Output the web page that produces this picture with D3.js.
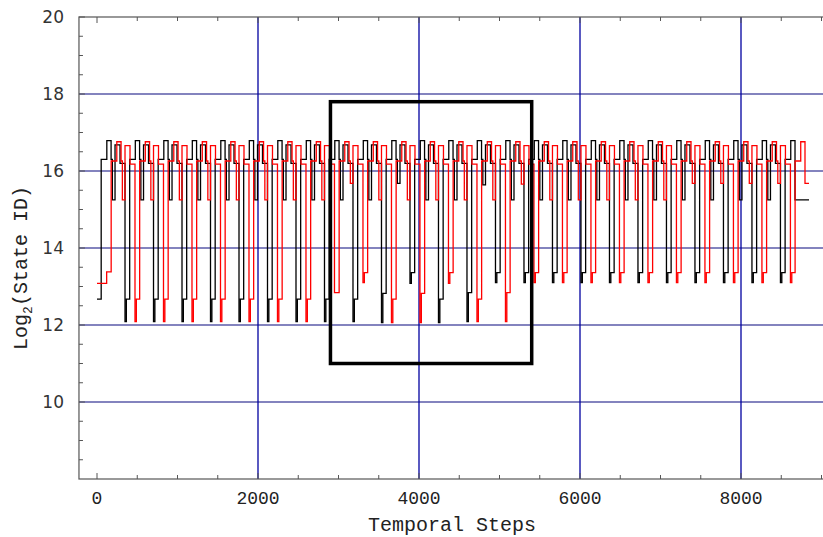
<!DOCTYPE html>
<html><head><meta charset="utf-8">
<script src="https://cdn.jsdelivr.net/npm/d3@7"></script>
<style>body{margin:0;background:#fff}svg{display:block}</style>
</head><body>
<svg id="c" width="823" height="537"></svg>
<script>
// ---------- data ----------
const xTickLabels = [0, 2000, 4000, 6000, 8000];
const yTickLabels = [10, 12, 14, 16, 18, 20];
const xMinorTicks = [0, 500, 1000, 1500, 2000, 2500, 3000, 3500, 4000, 4500, 5000, 5500, 6000, 6500, 7000, 7500, 8000, 8500, 9000];
const yMinorTicks = [8.5, 9, 9.5, 10, 10.5, 11, 11.5, 12, 12.5, 13, 13.5, 14, 14.5, 15, 15.5, 16, 16.5, 17, 17.5, 18, 18.5, 19, 19.5, 20];
const highlightBox = [2900, 5400, 11.0, 17.8]; // x0, x1, y0, y1

// repeating cycle of each trace: deep, step, hi1, top, hi2, mid, p2, p3 (durations in steps)
const period = 354;
const segDur = [17, 41, 70, 53, 16, 33, 62, 62];
const endStep = 8845;

// black trace
const blackFirstDeep = 348;
const blackStart = [[0, 12.67]];
const blackHigh = [16.30, 16.79, 16.30, 16.68, 16.20];
const blackDeep = [12.09, 12.09, 12.09, 12.09, 12.09, 12.09, 12.09, 12.09, 12.09, 12.06, 13.08, 12.06, 12.09, 13.10, 13.10, 13.10, 13.10, 13.10, 13.10, 13.10, 13.10, 13.10, 13.10, 13.10];
const blackStep = [12.67, 12.67, 12.67, 12.67, 12.67, 12.67, 12.67, 12.67, 12.67, 12.82, 13.36, 12.67, 12.84, 13.36, 13.36, 13.36, 13.36, 13.36, 13.36, 13.36, 13.36, 13.36, 13.36, 13.36];
const blackMid = [15.25, 15.25, 15.25, 15.25, 15.25, 15.25, 15.25, 15.25, 15.25, 15.25, 15.68, 15.25, 15.25, 15.64, 15.25, 15.25, 15.25, 15.25, 15.25, 15.25, 15.25, 15.25, 15.25, 15.25];
const blackTail = 15.25;

// red trace
const redFirstDeep = 472;
const redStart = [[0, 13.08], [120, 13.38]];
const redHigh = [16.26, 16.76, 16.26, 16.66, 16.18];
const redDeep = [12.09, 12.09, 12.09, 12.09, 12.09, 12.09, 12.09, 12.84, 13.10, 12.06, 12.06, 13.08, 12.09, 12.09, 13.10, 13.10, 13.10, 13.10, 13.10, 13.10, 13.10, 13.10, 13.10, 13.10];
const redStep = [12.67, 12.67, 12.67, 12.67, 12.67, 12.67, 12.67, 12.84, 13.36, 12.67, 12.82, 13.36, 12.67, 12.84, 13.36, 13.36, 13.36, 13.36, 13.36, 13.36, 13.36, 13.36, 13.36, 13.36];
const redMid = [15.25, 15.25, 15.25, 15.25, 15.25, 15.25, 15.25, 15.25, 15.68, 15.25, 15.25, 15.25, 15.25, 15.25, 15.66, 15.25, 15.25, 15.25, 15.25, 15.25, 15.68, 15.68, 15.68, 15.68];
const redTail = 15.68;

// ---------- build step traces from the read values ----------
function buildTrace(firstDeep, start, high, deep, step, mid, tail) {
  const pts = start.map(d => ({t: d[0], v: d[1]}));
  let t = firstDeep - period + segDur[0] + segDur[1];
  const first = [high[0], high[1], high[2], mid[0], high[3], high[4]];
  first.forEach((v, i) => { pts.push({t, v}); t += segDur[i + 2]; });
  for (let k = 0; k < deep.length; k++) {
    const last = k === deep.length - 1;
    const seq = last
      ? [deep[k], step[k], high[0], high[1], tail]
      : [deep[k], step[k], high[0], high[1], high[2], mid[k + 1], high[3], high[4]];
    let tt = firstDeep + k * period;
    seq.forEach((v, i) => { pts.push({t: tt, v}); tt += segDur[i]; });
  }
  pts.push({t: endStep, v: tail});
  return pts;
}
const blackTrace = buildTrace(blackFirstDeep, blackStart, blackHigh, blackDeep, blackStep, blackMid, blackTail);
const redTrace = buildTrace(redFirstDeep, redStart, redHigh, redDeep, redStep, redMid, redTail);

// ---------- drawing ----------
const svg = d3.select('#c');
const x = d3.scaleLinear().domain([0, 8000]).range([97, 741]);
const y = d3.scaleLinear().domain([8, 20]).range([479, 17]);
const xL = x(-224), xR = x(9240), yB = y(8), yT = y(20);

const g = svg.append('g');
// grid
g.selectAll('line.hg').data(yTickLabels.filter(v => v < 20)).join('line').attr('class', 'hg')
  .attr('x1', xL).attr('x2', xR).attr('y1', d => y(d)).attr('y2', d => y(d))
  .attr('stroke', '#5a5aa8').attr('stroke-width', 1.5);
g.selectAll('line.vg').data(xTickLabels.filter(v => v > 0)).join('line').attr('class', 'vg')
  .attr('y1', yT).attr('y2', yB).attr('x1', d => x(d)).attr('x2', d => x(d))
  .attr('stroke', '#0000a0').attr('stroke-width', 1.3);

const line = d3.line().x(d => x(d.t)).y(d => y(d.v)).curve(d3.curveStepAfter);
g.append('path').datum(blackTrace).attr('d', line).attr('fill', 'none').attr('stroke', '#000').attr('stroke-width', 1.3);
g.append('path').datum(redTrace).attr('d', line).attr('fill', 'none').attr('stroke', '#ff0000').attr('stroke-width', 1.3);

// highlight box
g.append('rect')
  .attr('x', x(highlightBox[0])).attr('y', y(highlightBox[3]))
  .attr('width', x(highlightBox[1]) - x(highlightBox[0]))
  .attr('height', y(highlightBox[2]) - y(highlightBox[3]))
  .attr('fill', 'none').attr('stroke', '#000').attr('stroke-width', 3.5);

// frame
g.append('rect').attr('x', xL).attr('y', yT).attr('width', xR - xL).attr('height', yB - yT)
  .attr('fill', 'none').attr('stroke', '#555').attr('stroke-width', 1.2);

// ticks (inward)
const tickCol = '#555';
const xMajorSet = new Set(xTickLabels);
g.selectAll('line.xtb').data(xMinorTicks).join('line').attr('class', 'xtb')
  .attr('x1', d => x(d)).attr('x2', d => x(d))
  .attr('y1', yB).attr('y2', d => yB - (xMajorSet.has(d) ? 6 : 4))
  .attr('stroke', tickCol).attr('stroke-width', 1);
g.selectAll('line.xtt').data(xMinorTicks).join('line').attr('class', 'xtt')
  .attr('x1', d => x(d)).attr('x2', d => x(d))
  .attr('y1', yT).attr('y2', d => yT + (xMajorSet.has(d) ? 6 : 4))
  .attr('stroke', tickCol).attr('stroke-width', 1);
const yMajorSet = new Set(yTickLabels);
g.selectAll('line.ytl').data(yMinorTicks).join('line').attr('class', 'ytl')
  .attr('y1', d => y(d)).attr('y2', d => y(d))
  .attr('x1', xL).attr('x2', d => xL + (yMajorSet.has(d) ? 6 : 4))
  .attr('stroke', tickCol).attr('stroke-width', 1);

// tick labels
g.selectAll('text.xl').data(xTickLabels).join('text').attr('class', 'xl')
  .attr('x', d => x(d)).attr('y', 504).attr('text-anchor', 'middle')
  .attr('font-family', 'Liberation Mono, monospace').attr('font-size', 18).attr('fill', '#222')
  .text(d => d);
g.selectAll('text.yl').data(yTickLabels).join('text').attr('class', 'yl')
  .attr('x', 64).attr('y', d => y(d) + 6).attr('text-anchor', 'end')
  .attr('font-family', 'DejaVu Sans, sans-serif').attr('font-size', 17).attr('fill', '#333')
  .text(d => d);

// axis titles
g.append('text').attr('x', 452).attr('y', 531).attr('text-anchor', 'middle')
  .attr('font-family', 'Liberation Mono, monospace').attr('font-size', 20).attr('fill', '#222')
  .text('Temporal Steps');
const yt = g.append('text').attr('transform', 'translate(27,268) rotate(-90)').attr('text-anchor', 'middle')
  .attr('font-family', 'Liberation Mono, monospace').attr('font-size', 20).attr('fill', '#222');
yt.append('tspan').text('Log');
yt.append('tspan').attr('font-size', 13).attr('dy', 5).text('2');
yt.append('tspan').attr('dy', -5).text('(State ID)');
</script>
</body></html>
